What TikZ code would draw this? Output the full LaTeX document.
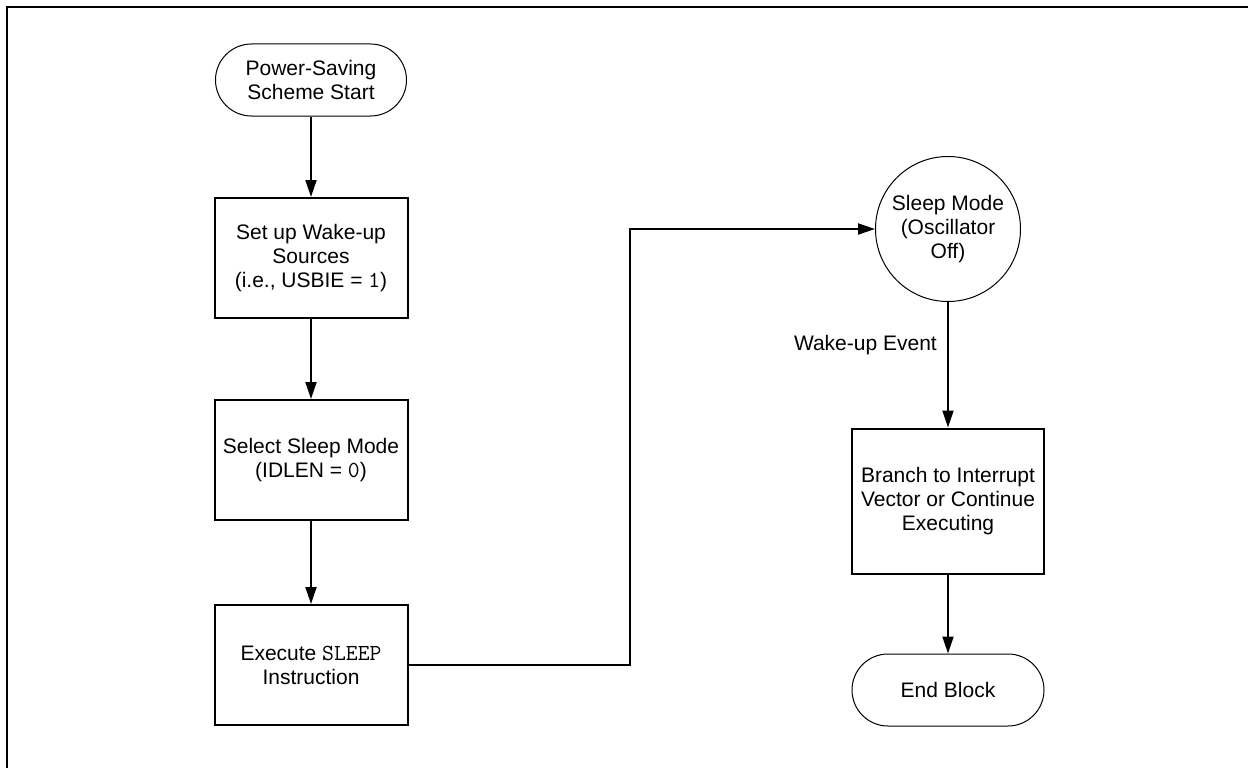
\documentclass[tikz,border=0pt]{standalone}
\usepackage{fontspec}
\setmainfont{Liberation Sans}
\usetikzlibrary{arrows.meta}
% register names and literal values in a typewriter face
\newcommand\regval[1]{{\fontsize{23}{24}\selectfont\ttfamily #1}}
\tikzset{
  txt/.style={font=\fontsize{21}{24}\selectfont, align=center, inner sep=0pt},
  stepbox/.style={txt, draw, line width=2pt, minimum width=193pt, minimum height=120pt},
  term/.style={txt, draw, line width=1pt, rounded corners=36pt, minimum width=191pt, minimum height=72pt},
  state/.style={txt, draw, line width=1pt, circle, minimum size=145pt},
  flow/.style={line width=2pt, -{Triangle[length=17pt,width=11pt]}}
}
\begin{document}
\begin{tikzpicture}[x=1pt,y=-1pt]
  \useasboundingbox (0,0) rectangle (1248,768);
  % frame
  \draw[line width=2.5pt] (7,768) -- (7,7) -- (1248,7);

  % left column
  \node[term] (start) at (311,80) {Power-Saving\\Scheme Start};
  \node[stepbox] (wake) at (311,258) {Set up Wake-up\\Sources\\(i.e., USBIE = \regval{1})};
  \node[stepbox] (sel) at (311,460) {Select Sleep Mode\\(IDLEN = \regval{0})};
  \node[stepbox] (exec) at (311,665) {Execute \regval{SLEEP}\\Instruction};

  % right column
  \node[state] (sleep) at (948,229) {Sleep Mode\\(Oscillator\\Off)};
  \node[stepbox, minimum width=192pt, minimum height=145pt] (branch) at (948,501) {Branch to Interrupt\\Vector or Continue\\Executing};
  \node[term, minimum width=192pt] (done) at (948,690) {End Block};
  \node[txt, anchor=east] (evt) at (937,345) {Wake-up Event};

  % connectors
  \draw[flow] (start) -- (wake);
  \draw[flow] (wake) -- (sel);
  \draw[flow] (sel) -- (exec);
  \coordinate (bend) at (630,665);
  \draw[flow] (exec.east) -- (bend) |- (sleep.west);
  \draw[flow] (sleep) -- (branch);
  \draw[flow] (branch) -- (done);
\end{tikzpicture}
\end{document}
